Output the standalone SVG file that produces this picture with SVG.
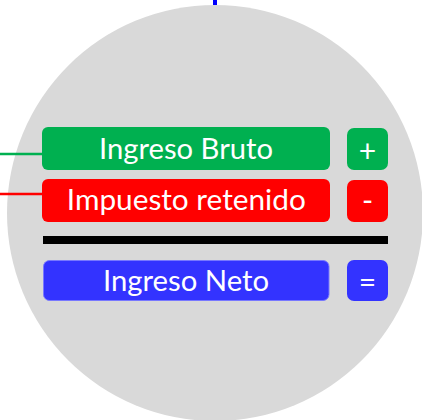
<svg xmlns="http://www.w3.org/2000/svg" width="422" height="420" viewBox="0 0 422 420">
<style>
.lbl{font-family:Lato,"Open Sans","Liberation Sans",sans-serif;font-size:29px;fill:#ffffff;text-anchor:middle}
.sym{font-family:Lato,"Open Sans","Liberation Sans",sans-serif;font-size:30px;fill:#ffffff;text-anchor:middle}
.conn{fill:none}
</style>
<rect width="422" height="420" fill="#ffffff"/>
<circle id="background" cx="215" cy="213" r="208" fill="#d9d9d9"/>
<g id="connectors" class="conn">
<line x1="0" y1="154" x2="43" y2="154" stroke="#00b050" stroke-width="2.7"/>
<line x1="0" y1="194" x2="43" y2="194" stroke="#ff0000" stroke-width="2.7"/>
<line x1="215" y1="0" x2="215" y2="5" stroke="#0000ff" stroke-width="4"/>
</g>
<g id="ingreso-bruto">
<rect x="42" y="127" width="288" height="43" rx="6" fill="#00b050"/>
<text class="lbl" x="186" y="159" textLength="174" lengthAdjust="spacingAndGlyphs">Ingreso Bruto</text>
</g>
<g id="plus">
<rect x="347" y="128" width="41" height="42" rx="7" fill="#00b050"/>
<text class="sym" x="367.5" y="162">+</text>
</g>
<g id="impuesto-retenido">
<rect x="42" y="179" width="288" height="43" rx="6" fill="#ff0000"/>
<text class="lbl" x="186.3" y="210" textLength="239" lengthAdjust="spacingAndGlyphs">Impuesto retenido</text>
</g>
<g id="minus">
<rect x="347" y="180" width="41" height="42" rx="7" fill="#ff0000"/>
<text class="sym" x="367.5" y="210.5">-</text>
</g>
<g id="separator">
<rect x="43" y="236" width="345" height="8" fill="#000000"/>
</g>
<g id="ingreso-neto">
<rect x="43.5" y="260.5" width="285.5" height="40" rx="6" fill="#3333ff" stroke="#7878ff" stroke-width="1"/>
<text class="lbl" x="186" y="291" textLength="166" lengthAdjust="spacingAndGlyphs">Ingreso Neto</text>
</g>
<g id="equals">
<rect x="347" y="260" width="41" height="41" rx="7" fill="#3333ff"/>
<text class="sym" x="367.5" y="292.5">=</text>
</g>
</svg>
